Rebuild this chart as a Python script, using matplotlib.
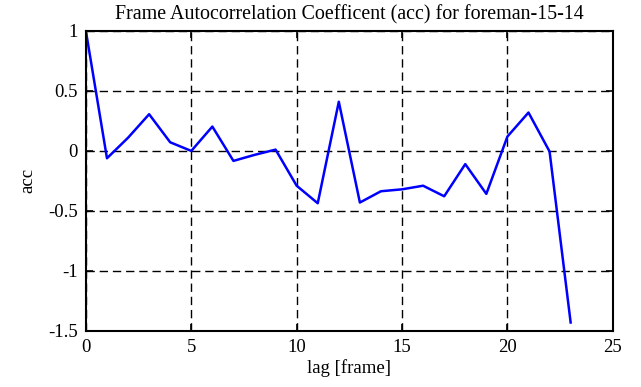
import matplotlib
matplotlib.use("Agg")
import matplotlib.pyplot as plt

lags = list(range(24))
acc = [1.0, -0.061, 0.11, 0.306, 0.072, 0.0, 0.203, -0.083, -0.033, 0.011,
       -0.29, -0.436, 0.41, -0.43, -0.336, -0.32, -0.29, -0.378, -0.11,
       -0.358, 0.12, 0.32, -0.005, -1.43]

TITLE = 'Frame Autocorrelation Coefficent (acc) for foreman-15-14'
XTICKS = [0, 5, 10, 15, 20, 25]
YTICKS = [-1.5, -1, -0.5, 0, 0.5, 1]
YTICK_LABELS = ['-1.5', '-1', '-0.5', '0', '0.5', '1']

plt.rcParams['font.family'] = ['Liberation Serif', 'DejaVu Serif']

fig = plt.figure(figsize=(6.41, 3.87), dpi=100)
ax = fig.add_axes([0.134, 0.145, 0.822, 0.775])

ax.plot(lags, acc, color='#0000ff', lw=1.8)

ax.set_xlim(0, 25)
ax.set_ylim(-1.5, 1)
ax.set_xticks(XTICKS)
ax.set_yticks(YTICKS)
ax.set_yticklabels(YTICK_LABELS)
ax.grid(True, color='black', linestyle=(0, (6, 3.5)), lw=1.0)
ax.tick_params(direction='in', top=True, right=True, length=5, width=1.2,
               labelsize=13.5, pad=6)
for s in ax.spines.values():
    s.set_linewidth(1.5)

ax.set_xlabel('lag [frame]', fontsize=13.5, labelpad=2)
ax.set_ylabel('acc', fontsize=13.5, labelpad=8)
ax.set_title(TITLE, fontsize=14.4, pad=8.5)

fig.savefig('out.png', dpi=100)
